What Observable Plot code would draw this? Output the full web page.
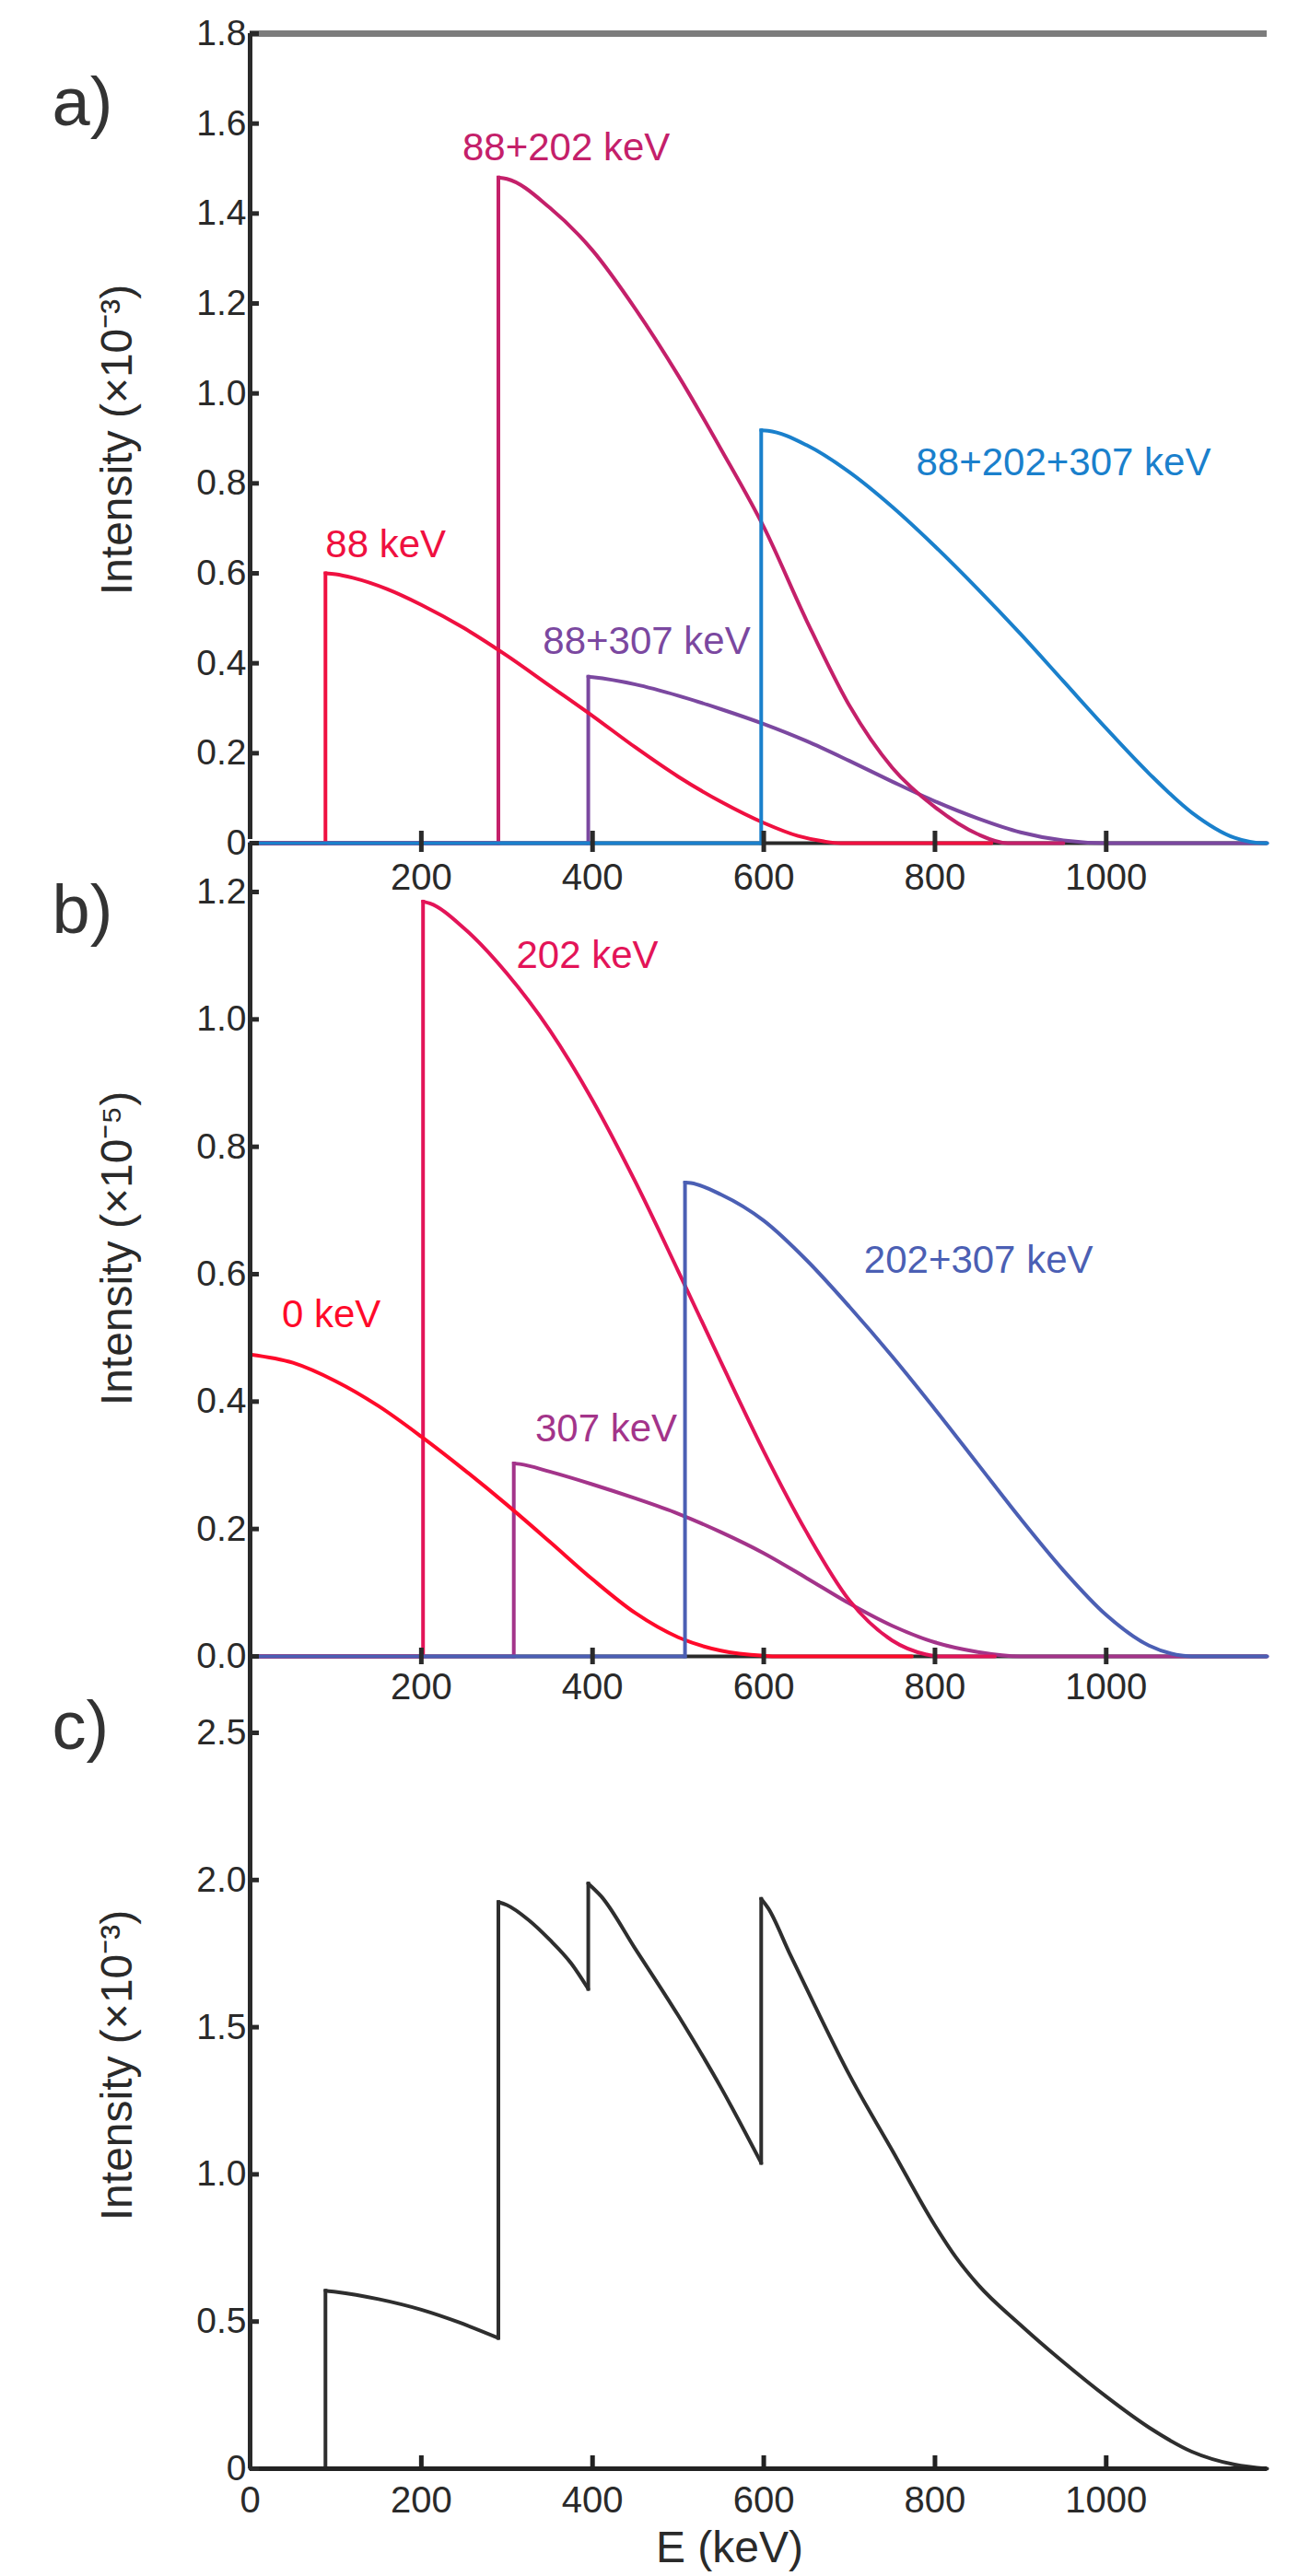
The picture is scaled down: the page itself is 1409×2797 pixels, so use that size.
<!DOCTYPE html>
<html>
<head>
<meta charset="utf-8">
<script src="https://cdn.jsdelivr.net/npm/d3@7"></script>
<script src="https://cdn.jsdelivr.net/npm/@observablehq/plot@0.6"></script>
<style>
  html, body { margin: 0; padding: 0; background: #fff; }
  #wrap { position: relative; width: 1409px; height: 2797px; overflow: hidden; background: #fff; }
  #wrap svg { position: absolute; left: 0; overflow: visible !important; background: transparent !important; max-width: none !important; }
</style>
</head>
<body>
<div id="wrap"></div>
<script>
// ---------------- data ----------------
const E_MAX = 1188;                       // keV, right end of the energy axis
const xTickValues = [200, 400, 600, 800, 1000];
const xTickValuesC = [0, 200, 400, 600, 800, 1000];

const yTicksA = [0, 0.2, 0.4, 0.6, 0.8, 1.0, 1.2, 1.4, 1.6, 1.8];
const yTickLabelsA = ["0", "0.2", "0.4", "0.6", "0.8", "1.0", "1.2", "1.4", "1.6", "1.8"];
const yTicksB = [0, 0.2, 0.4, 0.6, 0.8, 1.0, 1.2];
const yTickLabelsB = ["0.0", "0.2", "0.4", "0.6", "0.8", "1.0", "1.2"];
const yTicksC = [0, 0.5, 1.0, 1.5, 2.0, 2.5];
const yTickLabelsC = ["0", "0.5", "1.0", "1.5", "2.0", "2.5"];

// Panel a) spectra  [E (keV), intensity (x1e-3)] ; listed in drawing order
const seriesNamesA = ["88+307 keV", "88+202 keV", "88 keV", "88+202+307 keV"];
const seriesColorsA = ["#7b48a0", "#c4206a", "#ef1040", "#1a80cc"];
const spectrumA_88_307 = [[0,0],[395,0],[395,0.370],[400,0.369],[450,0.353],[500,0.328],[550,0.298],[600,0.265],[650,0.227],[700,0.183],[750,0.137],[800,0.093],[850,0.055],[900,0.024],[950,0.006],[1000,0],[1188,0]];
const spectrumA_88_202 = [[0,0],[290,0],[290,1.480],[300,1.477],[350,1.413],[400,1.318],[450,1.188],[500,1.040],[550,0.876],[600,0.703],[650,0.495],[700,0.306],[750,0.168],[800,0.080],[850,0.020],[885,0],[950,0]];
const spectrumA_88 = [[0,0],[88,0],[88,0.600],[100,0.598],[120,0.590],[160,0.565],[200,0.530],[250,0.478],[300,0.417],[350,0.350],[400,0.283],[450,0.213],[500,0.148],[550,0.092],[600,0.045],[640,0.016],[670,0.004],[690,0],[866,0]];
const spectrumA_88_202_307 = [[0,0],[597,0],[597,0.918],[605,0.917],[650,0.885],[700,0.825],[750,0.748],[800,0.660],[850,0.565],[900,0.465],[950,0.360],[1000,0.255],[1050,0.155],[1100,0.068],[1150,0.012],[1185,0],[1188,0]];
const labelEA = [342, 248, 88, 778];
const labelIA = [0.448, 1.546, 0.663, 0.846];

// Panel b) spectra  [E (keV), intensity (x1e-5)]
const seriesNamesB = ["307 keV", "202 keV", "0 keV", "202+307 keV"];
const seriesColorsB = ["#a3348a", "#e31458", "#ff0a2a", "#4b5fb4"];
const spectrumB_307 = [[0,0],[308,0],[308,0.303],[315,0.302],[350,0.290],[400,0.270],[450,0.248],[500,0.224],[550,0.195],[600,0.162],[650,0.123],[700,0.083],[750,0.048],[800,0.022],[850,0.007],[900,0],[1188,0]];
const spectrumB_202 = [[0,0],[202,0],[202,1.185],[210,1.182],[250,1.143],[300,1.072],[350,0.983],[400,0.873],[450,0.745],[500,0.605],[550,0.462],[600,0.322],[650,0.195],[700,0.088],[750,0.025],[790,0.003],[805,0],[870,0]];
const spectrumB_0 = [[0,0.474],[50,0.461],[100,0.432],[150,0.393],[200,0.345],[250,0.293],[300,0.238],[350,0.180],[400,0.121],[450,0.068],[500,0.030],[550,0.009],[600,0.001],[615,0],[773,0]];
const spectrumB_202_307 = [[0,0],[508,0],[508,0.744],[515,0.743],[550,0.725],[600,0.684],[650,0.622],[700,0.549],[750,0.471],[800,0.388],[850,0.302],[900,0.216],[950,0.135],[1000,0.065],[1050,0.017],[1090,0.001],[1100,0],[1188,0]];
const labelEB = [333, 311, 37, 717];
const labelIB = [0.357, 1.10, 0.536, 0.622];

// Panel c) total spectrum [E (keV), intensity (x1e-3)]
const spectrumC = [[0,0],[88,0],[88,0.605],[100,0.601],[150,0.576],[200,0.540],[245,0.496],[290,0.444],
  [290,1.925],[300,1.915],[325,1.865],[350,1.797],[375,1.717],[395,1.630],
  [395,1.988],[410,1.945],[450,1.766],[500,1.540],[550,1.295],[597,1.039],
  [597,1.936],[605,1.905],[630,1.752],[660,1.571],[700,1.338],[750,1.082],[800,0.826],[825,0.716],[850,0.626],[900,0.488],[950,0.362],[1000,0.245],[1050,0.140],[1100,0.058],[1150,0.014],[1188,0]];

// ---------------- helpers ----------------
const FONT = "'Liberation Sans', Arial, Helvetica, sans-serif";
const INK = "#2a2a2a";

function splitRuns(pts) {
  const runs = [], jumps = [];
  let cur = [pts[0]];
  for (let i = 1; i < pts.length; i++) {
    const p = pts[i], q = pts[i - 1];
    if (p[0] === q[0]) { runs.push(cur); jumps.push([q, p]); cur = [p]; }
    else cur.push(p);
  }
  runs.push(cur);
  return {runs: runs.filter(r => r.length > 1), jumps};
}

function seriesMarks(pts, color, width) {
  const {runs, jumps} = splitRuns(pts);
  const runRows = runs.flatMap((r, k) => r.map(([E, I]) => ({E, I, k})));
  const jumpRows = jumps.flatMap((r, k) => r.map(([E, I]) => ({E, I, k})));
  return [
    Plot.line(runRows, {x: "E", y: "I", z: "k", stroke: color, strokeWidth: width, curve: "monotone-x"}),
    Plot.line(jumpRows, {x: "E", y: "I", z: "k", stroke: color, strokeWidth: width, strokeLinecap: "square"})
  ];
}

function yAxisMarks(ticks, labels) {
  return [
    Plot.ruleY(ticks, {x1: 0, x2: 0, insetRight: -10, stroke: INK, strokeWidth: 5}),
    Plot.text(ticks, {x: 0, y: d => d, text: (d, i) => labels[i], textAnchor: "end", dx: -4, fontSize: 39, fill: INK})
  ];
}

function base(opts) {
  return {
    width: 1409,
    marginLeft: 271,
    marginRight: 34,
    x: {domain: [0, E_MAX], axis: null},
    style: {background: "transparent", overflow: "visible", fontFamily: FONT},
    ...opts
  };
}

const wrap = document.getElementById("wrap");
function place(svg, top) {
  svg.style.top = top + "px";
  wrap.appendChild(svg);
}

// ---------------- panel a ----------------
const curvesA = [spectrumA_88_307, spectrumA_88_202, spectrumA_88, spectrumA_88_202_307];
const plotA = Plot.plot(base({
  height: 975, marginTop: 36, marginBottom: 60,
  y: {domain: [0, 1.8], axis: null},
  marks: [
    Plot.ruleY([0], {stroke: INK, strokeWidth: 4}),
    Plot.ruleY([1.8], {stroke: "#7c7c7c", strokeWidth: 7}),
    ...curvesA.flatMap((c, i) => seriesMarks(c, seriesColorsA[i], 4)),
    Plot.text(seriesNamesA, {x: (d, i) => labelEA[i], y: (d, i) => labelIA[i], text: d => d, fill: (d, i) => seriesColorsA[i], textAnchor: "start", fontSize: 42}),
    Plot.ruleX(xTickValues, {x: d => d, y1: 0, y2: 0, insetTop: -13, insetBottom: -10, stroke: INK, strokeWidth: 5}),
    Plot.text(xTickValues, {x: d => d, y: 0, dy: 38, text: d => String(d), fontSize: 40, fill: INK}),
    ...yAxisMarks(yTicksA, yTickLabelsA),
    Plot.ruleX([0], {y1: 0, y2: 1.8, insetTop: -4, stroke: INK, strokeWidth: 5}),
    Plot.text(["a)"], {x: 0, y: 1.6445, dx: -215, textAnchor: "start", fontSize: 74, fill: "#333"}),
    Plot.text(["Intensity (×10⁻³)"], {x: 0, y: 0.897, dx: -144, rotate: -90, fontSize: 48, fill: INK})
  ]
}));
place(plotA, 0);

// ---------------- panel b ----------------
const curvesB = [spectrumB_307, spectrumB_202, spectrumB_0, spectrumB_202_307];
const plotB = Plot.plot(base({
  height: 960, marginTop: 68, marginBottom: 62,
  y: {domain: [0, 1.2], axis: null},
  marks: [
    Plot.ruleY([0], {stroke: INK, strokeWidth: 4}),
    ...curvesB.flatMap((c, i) => seriesMarks(c, seriesColorsB[i], 4)),
    Plot.text(seriesNamesB, {x: (d, i) => labelEB[i], y: (d, i) => labelIB[i], text: d => d, fill: (d, i) => seriesColorsB[i], textAnchor: "start", fontSize: 42}),
    Plot.ruleX(xTickValues, {x: d => d, y1: 0, y2: 0, insetTop: -9, insetBottom: -9, stroke: INK, strokeWidth: 5}),
    Plot.text(xTickValues, {x: d => d, y: 0, dy: 34, text: d => String(d), fontSize: 40, fill: INK}),
    ...yAxisMarks(yTicksB, yTickLabelsB),
    Plot.ruleX([0], {y1: -0.0896, y2: 1.2766, stroke: INK, strokeWidth: 5}),
    Plot.text(["b)"], {x: 0, y: 1.1696, dx: -215, textAnchor: "start", fontSize: 74, fill: "#333"}),
    Plot.text(["Intensity (×10⁻⁵)"], {x: 0, y: 0.6405, dx: -144, rotate: -90, fontSize: 48, fill: INK})
  ]
}));
place(plotB, 900);

// ---------------- panel c ----------------
const plotC = Plot.plot(base({
  height: 997, marginTop: 81, marginBottom: 117,
  y: {domain: [0, 2.5], axis: null},
  marks: [
    ...seriesMarks(spectrumC, "#2e2e2e", 4),
    Plot.ruleY([0], {stroke: "#222", strokeWidth: 5}),
    Plot.ruleX(xTickValues, {x: d => d, y1: 0, y2: 0, insetTop: -14, insetBottom: 0, stroke: "#222", strokeWidth: 5}),
    Plot.text(xTickValuesC, {x: d => d, y: 0, dy: 35, text: d => String(d), fontSize: 40, fill: INK}),
    ...yAxisMarks(yTicksC, yTickLabelsC),
    Plot.ruleX([0], {y1: 0, y2: 2.566, stroke: INK, strokeWidth: 5}),
    Plot.text(["c)"], {x: 0, y: 2.519, dx: -215, textAnchor: "start", fontSize: 74, fill: "#333"}),
    Plot.text(["Intensity (×10⁻³)"], {x: 0, y: 1.3705, dx: -144, rotate: -90, fontSize: 48, fill: INK}),
    Plot.text(["E (keV)"], {x: 560, y: 0, dy: 86, fontSize: 48, fill: INK})
  ]
}));
place(plotC, 1800);
</script>
</body>
</html>
